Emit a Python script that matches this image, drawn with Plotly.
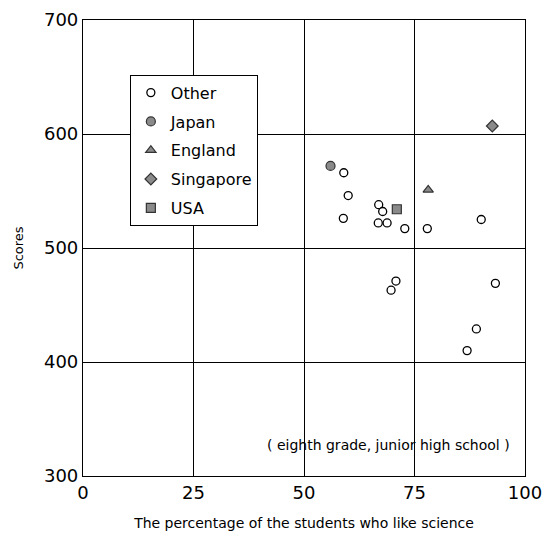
import plotly.graph_objects as go

# Data
other_x = [59.0, 60.0, 58.9, 66.9, 67.8, 66.8, 68.8, 72.8, 77.9, 90.1, 70.8, 69.7, 93.3, 89.0, 86.9]
other_y = [566, 546, 526, 538, 532, 522, 522, 517, 517, 525, 471, 463, 469, 429, 410]
japan_x = [56.0]
japan_y = [572]
england_x = [78.1]
england_y = [551]
singapore_x = [92.6]
singapore_y = [607]
usa_x = [71.0]
usa_y = [534]

x_ticks = [0, 25, 50, 75, 100]
y_ticks = [300, 400, 500, 600, 700]

FONT = "DejaVu Sans, sans-serif"
GRAY = "#8a8a8a"

fig = go.Figure()
fig.add_trace(go.Scatter(x=other_x, y=other_y, mode="markers", name="Other", legendgroup="a",
                         marker=dict(symbol="circle", size=8, color="white",
                                     line=dict(color="black", width=1.3))))
fig.add_trace(go.Scatter(x=japan_x, y=japan_y, mode="markers", name="Japan", legendgroup="b",
                         marker=dict(symbol="circle", size=9, color=GRAY,
                                     line=dict(color="#333", width=1.2))))
fig.add_trace(go.Scatter(x=england_x, y=england_y, mode="markers", name="England", legendgroup="c",
                         marker=dict(symbol="triangle-up", size=9, color=GRAY,
                                     line=dict(color="#333", width=1.2))))
fig.add_trace(go.Scatter(x=singapore_x, y=singapore_y, mode="markers", name="Singapore", legendgroup="d",
                         marker=dict(symbol="diamond", size=9, color=GRAY,
                                     line=dict(color="#333", width=1.2))))
fig.add_trace(go.Scatter(x=usa_x, y=usa_y, mode="markers", name="USA", legendgroup="e",
                         marker=dict(symbol="square", size=9, color=GRAY,
                                     line=dict(color="#333", width=1.2))))

fig.add_annotation(x=0.97, y=0.068, xref="paper", yref="paper", xanchor="right", yanchor="middle",
                   text="( eighth grade, junior high school )", showarrow=False,
                   font=dict(family=FONT, size=14, color="black"))

fig.update_layout(
    width=550, height=541,
    margin=dict(l=75, r=33, t=12, b=73),
    paper_bgcolor="white", plot_bgcolor="white",
    font=dict(family=FONT, color="black"),
    showlegend=True,
    legend=dict(x=0.106, y=0.88, xanchor="left", yanchor="top",
                bordercolor="black", borderwidth=1, bgcolor="white",
                font=dict(family=FONT, size=16, color="black"),
                tracegroupgap=5, itemwidth=30),
    xaxis=dict(range=[0, 100], tickvals=x_ticks, ticktext=[str(v) for v in x_ticks],
               showgrid=True, gridcolor="black", gridwidth=1, zeroline=False,
               showline=True, linecolor="black", linewidth=1.2, mirror=True,
               ticks="", automargin=False, tickfont=dict(family=FONT, size=18, color="black"),
               title=dict(text="The percentage of the students who like science",
                          font=dict(family=FONT, size=14, color="black"), standoff=16)),
    yaxis=dict(range=[300, 700], tickvals=y_ticks, ticktext=[str(v) for v in y_ticks],
               showgrid=True, gridcolor="black", gridwidth=1, zeroline=False,
               showline=True, linecolor="black", linewidth=1.2, mirror=True,
               ticks="", automargin=False, tickfont=dict(family=FONT, size=18, color="black"),
               title=dict(text="Scores", font=dict(family=FONT, size=13, color="black"), standoff=17)),
)

fig.write_html("out.html")
